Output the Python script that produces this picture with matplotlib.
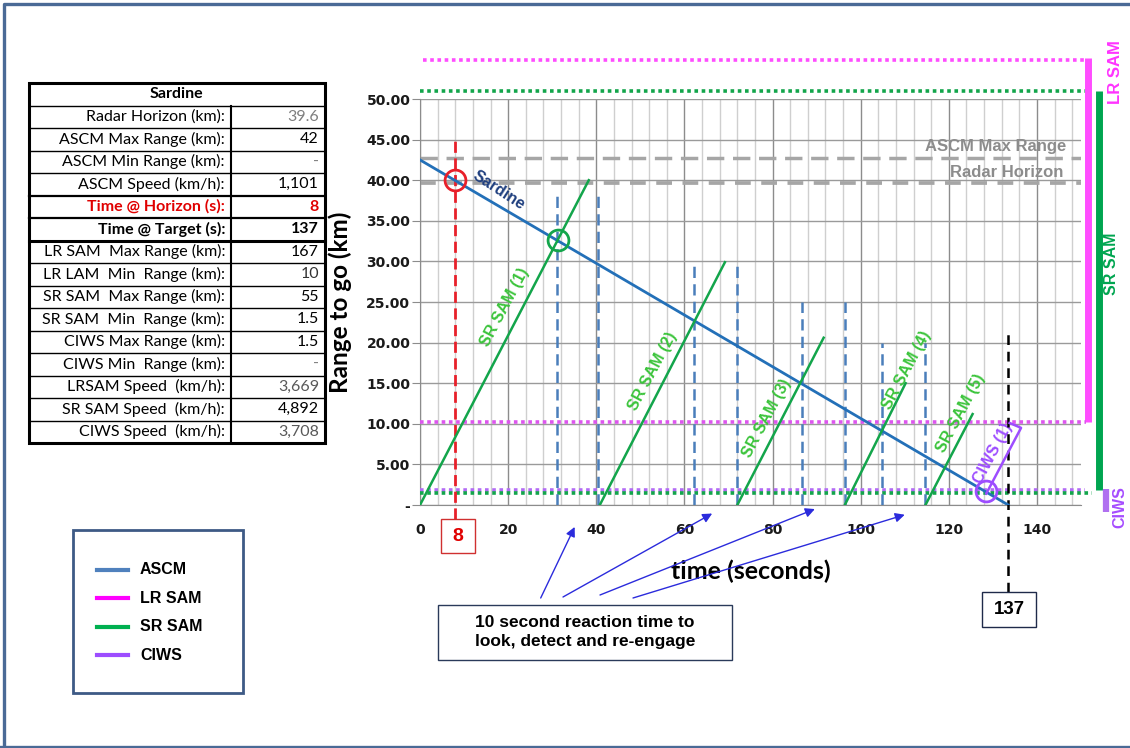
import matplotlib
matplotlib.use('Agg')
import matplotlib.pyplot as plt
from matplotlib.patches import Rectangle
from matplotlib.ticker import FixedLocator, FuncFormatter
import numpy as np

# ---------------- data ----------------
table_title = 'Sardine'
table_labels = ['Radar Horizon (km):', 'ASCM Max Range (km):', 'ASCM Min Range (km):', 'ASCM Speed (km/h):',
                'Time @ Horizon (s):', 'Time @ Target (s):', 'LR SAM  Max Range (km):', 'LR LAM  Min  Range (km):',
                'SR SAM  Max Range (km):', 'SR SAM  Min  Range (km):', 'CIWS Max Range (km):',
                'CIWS Min  Range (km):', 'LRSAM Speed  (km/h):', 'SR SAM Speed  (km/h):', 'CIWS Speed  (km/h):']
table_values = ['39.6', '42', '-', '1,101', '8', '137', '167', '10', '55', '1.5', '1.5', '-',
                '3,669', '4,892', '3,708']

# ASCM ("Sardine") track
ascm_time = [0, 133.5]
ascm_range = [42.5, 0]

# SR SAM shots: launch time, end point of each fly-out line
sam_launch = [0, 40.8, 72.0, 96.4, 114.7]
sam_end_time = [38.3, 69.2, 91.6, 110.2, 125.4]
sam_end_range = [40.0, 29.9, 20.6, 15.0, 11.2]
sam_names = ['SR SAM (1)', 'SR SAM (2)', 'SR SAM (3)', 'SR SAM (4)', 'SR SAM (5)']

# look / re-engage windows (blue dashed pairs)
look_start = [31.0, 62.2, 86.7, 104.9]
look_end = [40.5, 72.0, 96.4, 114.7]
look_height = [38, 30, 25, 20]

# CIWS shot
ciws_time = [128.5, 136.4, 133.8]
ciws_range = [1.4, 9.5, 10.1]

# ranges (km) as drawn
radar_horizon = 39.7
ascm_max = 42.7
lr_max, lr_min = 54.8, 10.2
sr_max, sr_min = 51.0, 1.5
ciws_max = 1.9

t_horizon = 8
t_target_line = 133.4
kill_points = {'horizon': (8, 40), 'sam': (31.4, 32.6), 'ciws': (128.5, 1.7)}
arrow_tips_t = [35.1, 66.3, 89.6, 110.0]
arrow_tips_r = [-2.7, -1.05, -0.5, -1.2]

legend_labels = ['ASCM', 'LR SAM', 'SR SAM', 'CIWS']
legend_colors = ['#4f81bd', '#ff00ff', '#00b050', '#9d4dff']

x_major = list(range(0, 141, 20))
y_major = list(range(0, 51, 5))

# ---------------- colours ----------------
c_ascm = '#2370b8'
c_sam = '#13a54b'
c_sam_txt = '#3cc43c'
c_look = '#4a7ebb'
c_red = '#e8202a'
c_gray = '#a6a6a6'
c_lr = '#ff4dff'
c_lr_low = '#dd55ee'
c_ciws = '#9d4dff'
c_ciws_dot = '#b36bf5'
c_grid = '#8c8c8c'

W, H = 1130, 748
fig = plt.figure(figsize=(W / 100, H / 100), dpi=100)
ax = fig.add_axes([420 / W, 1 - 505 / H, 661 / W, 406 / H])
ov = fig.add_axes([0, 0, 1, 1], zorder=5)
ov.set_xlim(0, W)
ov.set_ylim(H, 0)
ov.axis('off')

# ---------------- main chart ----------------
ax.set_xlim(0, 150)
ax.set_ylim(0, 50)
ax.xaxis.set_major_locator(FixedLocator(x_major))
ax.xaxis.set_minor_locator(FixedLocator([t for t in range(0, 150, 4) if t % 20]))
ax.yaxis.set_major_locator(FixedLocator(y_major))
ax.yaxis.set_major_formatter(FuncFormatter(lambda v, p: '-' if v == 0 else f'{v:.2f}'))
ax.set_axisbelow(True)
ax.grid(which='major', axis='x', color=c_grid, lw=1)
ax.grid(which='major', axis='y', color='#9a9a9a', lw=1)
ax.grid(which='minor', axis='x', color='#cfcfcf', lw=1)
for s in ['top', 'right']:
    ax.spines[s].set_visible(False)
for s in ['left', 'bottom']:
    ax.spines[s].set_color(c_grid)
ax.tick_params(axis='x', which='both', length=0, pad=13)
ax.tick_params(axis='y', length=6, color=c_grid, pad=1)
for lab in ax.get_xticklabels() + ax.get_yticklabels():
    lab.set_fontfamily('DejaVu Sans')
    lab.set_fontweight('bold')
    lab.set_fontsize(10)
    lab.set_color('#1a1a1a')

# range bands (dotted)
dot = (0, (1, 1))
ax.hlines(lr_max, 0.7, 151.2, colors=c_lr, lw=2.6, linestyles=dot, clip_on=False)
ax.hlines(sr_max, 0, 152, colors=c_sam, lw=2.6, linestyles=dot, clip_on=False)
ax.hlines(lr_min, 0, 151.2, colors=c_lr_low, lw=2.6, linestyles=dot, clip_on=False, zorder=3)
ax.hlines(ciws_max, 0, 150.8, colors=c_ciws_dot, lw=2.6, linestyles=dot, clip_on=False, zorder=3)
ax.hlines(sr_min, 0, 152.6, colors=c_sam, lw=2.6, linestyles=dot, clip_on=False, zorder=3)

# vertical range bars on the right
ax.vlines(151.7, lr_min, lr_max + 0.2, colors=c_lr, lw=5, clip_on=False)
ax.vlines(154.0, sr_min + 0.3, sr_max, colors='#00a550', lw=5, clip_on=False)
ax.vlines(155.6, -0.9, ciws_max + 0.1, colors='#b070f0', lw=4.5, clip_on=False)

# ascm max range / radar horizon
ax.hlines(ascm_max, 0, 150, colors=c_gray, lw=2.5, linestyles=(0, (5, 2.5)), zorder=2)
ax.hlines(radar_horizon, 0, 150, colors=c_gray, lw=2.7, linestyles=(0, (4.2, 2.8)), zorder=2)
ax.text(146.6, ascm_max + 1.5, 'ASCM Max Range', ha='right', va='center', color='#8c8c8c',
        fontsize=12, fontweight='bold', family='Liberation Sans')
ax.text(146.0, radar_horizon + 1.2, 'Radar Horizon', ha='right', va='center', color='#8c8c8c',
        fontsize=12, fontweight='bold', family='Liberation Sans')

# look windows
for s, e, h in zip(look_start, look_end, look_height):
    ax.vlines([s, e], 0, h, colors=c_look, lw=1.8, linestyles=(0, (4.5, 2.5)), zorder=3)

# time markers
ax.vlines(t_horizon, -1.7, 45.3, colors=c_red, lw=2, linestyles=(0, (4, 2)), clip_on=False, zorder=4)
ax.vlines(t_target_line, -10.7, 21.6, colors='black', lw=1.8, linestyles=(0, (3.9, 2.7)),
          clip_on=False, zorder=4)

# ascm track and sam shots
ax.plot(ascm_time, ascm_range, color=c_ascm, lw=2, zorder=5)
ax.text(17.8, 38.8, 'Sardine', rotation=-33, ha='center', va='center', color='#1f3f7f',
        fontsize=11.5, fontweight='bold', family='Liberation Sans', rotation_mode='anchor')
label_pos = [(19.3, 24.4), (52.9, 16.5), (78.6, 10.7), (110.4, 16.6), (122.6, 11.3)]
for i in range(len(sam_launch)):
    ax.plot([sam_launch[i], sam_end_time[i]], [0, sam_end_range[i]], color=c_sam, lw=1.8, zorder=5)
    ax.text(label_pos[i][0], label_pos[i][1], sam_names[i], rotation=62, ha='center', va='center',
            rotation_mode='anchor', color=c_sam_txt, fontsize=11.5, fontweight='bold',
            family='Liberation Sans')
ax.plot(ciws_time, ciws_range, color=c_ciws, lw=1.8, zorder=5)
ax.text(129.9, 6.4, 'CIWS (1)', rotation=62, ha='center', va='center', rotation_mode='anchor',
        color=c_ciws, fontsize=11.5, fontweight='bold', family='Liberation Sans')

for key, col in [('horizon', c_red), ('sam', c_sam), ('ciws', c_ciws)]:
    px, py = kill_points[key]
    ax.plot(px, py, 'o', ms=15, mfc='none', mec=col, mew=2, zorder=6, clip_on=False)

ax.set_ylabel('Range to go (km)', fontsize=17.5, fontweight='bold', family='Lato', labelpad=10)
ax.set_xlabel('time (seconds)', fontsize=18, fontweight='bold', family='Lato', labelpad=16)

# ---------------- overlay: table ----------------
x0, xs, x1 = 28.5, 231, 325
y0, rh = 83, 22.5
n = len(table_labels) + 1
ov.add_patch(Rectangle((x0, y0), x1 - x0, rh * n, fill=False, lw=2.2, ec='black'))
for i in range(1, n):
    lw = 1
    if i in (5, 6):
        lw = 1.6
    if i == 7:
        lw = 2.2
    ov.plot([x0, x1], [y0 + i * rh] * 2, color='black', lw=lw)
ov.plot([xs, xs], [y0 + rh, y0 + n * rh], color='black', lw=1.5)
ov.text((x0 + x1) / 2, y0 + rh / 2, table_title, ha='center', va='center', fontsize=11.5,
        fontweight='bold', family='Lato')
val_colors = ['#7f7f7f', 'black', '#7f7f7f', 'black', '#e00000', 'black', 'black', '#333333',
              'black', 'black', 'black', '#7f7f7f', '#595959', 'black', '#595959']
for i, (lab, val) in enumerate(zip(table_labels, table_values)):
    yc = y0 + (i + 1.5) * rh
    lcol, w = 'black', 'normal'
    if lab.startswith('Time @ Horizon'):
        lcol, w = '#e00000', 'bold'
    elif lab.startswith('Time @ Target'):
        w = 'bold'
    ov.text(xs - 6, yc, lab, ha='right', va='center', fontsize=11.5, color=lcol, fontweight=w, family='Lato')
    ov.text(x1 - 6, yc, val, ha='right', va='center', fontsize=11.5, color=val_colors[i],
            fontweight=w if i in (4, 5) else 'normal', family='Lato')

# ---------------- overlay: legend ----------------
ov.add_patch(Rectangle((73.3, 530), 169.4, 162.7, fc='white', ec='#3d5a85', lw=2))
for i, (lab, col) in enumerate(zip(legend_labels, legend_colors)):
    yy = 570 + i * 28.4
    ov.plot([97, 128], [yy, yy], color=col, lw=3)
    ov.text(140, yy, lab, va='center', ha='left', fontsize=11.5, fontweight='bold', family='Liberation Sans')

# ---------------- overlay: note box and arrows ----------------
ov.add_patch(Rectangle((438.3, 605), 293.4, 55, fc='white', ec='#2a3a5a', lw=1))
ov.text(585, 632, '10 second reaction time to\nlook, detect and re-engage', ha='center', va='center',
        fontsize=12.5, fontweight='bold', family='Liberation Sans', linespacing=1.3)
arrow_starts = [(540.7, 598), (563, 597), (600, 595), (633, 598)]
for (sx, sy), tt, tr in zip(arrow_starts, arrow_tips_t, arrow_tips_r):
    ov.annotate('', xy=(tt, tr), xycoords=ax.transData, xytext=(sx, sy), textcoords='data',
                arrowprops=dict(arrowstyle='-|>', color='#2b2bdc', lw=1, mutation_scale=14,
                                shrinkA=0, shrinkB=0))

# time boxes
ov.add_patch(Rectangle((441, 519), 34, 34, fc='white', ec='#d03030', lw=1))
ov.text(458, 536.5, str(t_horizon), ha='center', va='center', color='#e00000', fontsize=14,
        fontweight='bold', family='Liberation Sans')
ov.add_patch(Rectangle((981.7, 591.7), 54.3, 35, fc='white', ec='#1f2a4a', lw=1))
ov.text(1009, 609.5, table_values[5], ha='center', va='center', color='black', fontsize=13.5,
        fontweight='bold', family='Liberation Sans')

# right side band labels
ov.text(1116, 72, 'LR SAM', rotation=90, ha='center', va='center', color='#ff33ff', fontsize=12,
        fontweight='bold', family='Liberation Sans')
ov.text(1111, 264, 'SR SAM', rotation=90, ha='center', va='center', color='#00a550', fontsize=11.5,
        fontweight='bold', family='Liberation Sans')
ov.text(1120, 507, 'CIWS', rotation=90, ha='center', va='center', color='#a64dff', fontsize=11.5,
        fontweight='bold', family='Liberation Sans')

# slide border
ov.plot([4.3, 4.3, 1130], [748, 4.3, 4.3], color='#4a6a96', lw=2.4)
ov.plot([0, 1130], [746.5, 746.5], color='#4a6a96', lw=2.4)

fig.savefig('out.png', dpi=100)
